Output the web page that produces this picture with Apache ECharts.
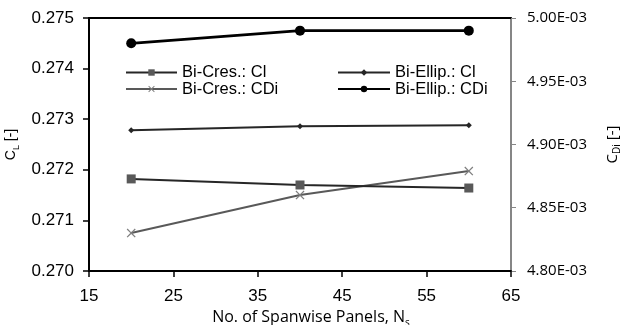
<!DOCTYPE html>
<html>
<head>
<meta charset="utf-8">
<script src="https://cdn.jsdelivr.net/npm/echarts@6/dist/echarts.min.js"></script>
<style>
  html, body { margin: 0; padding: 0; background: #fff; }
  #main { width: 622px; height: 325px; }
</style>
</head>
<body>
<div id="main"></div>
<script>
// panels along the span
var panels = [20, 40, 60]
// lift coefficient (left axis)
var cresCl = [0.27182, 0.27170, 0.27164]
var ellipCl = [0.27278, 0.27286, 0.27288]
// induced drag coefficient (right axis)
var cresCDi = [0.004830, 0.004860, 0.004879]
var ellipCDi = [0.004980, 0.004990, 0.004990]

var arial = "'Liberation Sans', Arial, sans-serif"
var calibri = "'Open Sans', sans-serif"

// small X marker
var xMark = 'path://M1,0 L5,4 L9,0 L10,1 L6,5 L10,9 L9,10 L5,6 L1,10 L0,9 L4,5 L0,1 Z'

function pairs(ys) {
    return panels.map(function (x, i) { return [x, ys[i]] })
}

var legendText = { fontFamily: arial, fontSize: 16.5, color: '#000' }

var myEcharts = echarts.init(document.getElementById('main'))
var option = {
    animation: false,
    grid: { left: 89, right: 111, top: 18, bottom: 54, outerBoundsMode: 'none' },
    legend: [{
        orient: 'vertical',
        left: 120, top: 59,
        itemWidth: 51, itemHeight: 8, itemGap: -0.5,
        textStyle: legendText,
        data: ['Bi-Cres.: Cl', 'Bi-Cres.: CDi']
    }, {
        orient: 'vertical',
        left: 332, top: 59,
        itemWidth: 52, itemHeight: 8, itemGap: -0.5,
        textStyle: legendText,
        data: ['Bi-Ellip.: Cl', 'Bi-Ellip.: CDi']
    }],
    xAxis: [{
        type: 'value',
        min: 15, max: 65, interval: 10,
        name: '{c|No. of Spanwise Panels, N}{s|s}',
        nameLocation: 'middle',
        nameGap: 24,
        nameTextStyle: {
            padding: [0, 0, 0, 22],
            rich: {
                c: { fontFamily: calibri, fontSize: 16, color: '#000', lineHeight: 20, verticalAlign: 'middle' },
                s: { fontFamily: calibri, fontSize: 10, color: '#000', lineHeight: 10, verticalAlign: 'bottom' }
            }
        },
        axisLine: { lineStyle: { color: '#000', width: 2 } },
        axisTick: { length: 6, lineStyle: { color: '#000', width: 1.5 } },
        axisLabel: { fontFamily: arial, fontSize: 17, color: '#000', margin: 17 },
        splitLine: { show: false }
    }, {
        type: 'value',
        position: 'top',
        min: 15, max: 65,
        axisLine: { lineStyle: { color: '#000', width: 2 } },
        axisTick: { show: false },
        axisLabel: { show: false },
        splitLine: { show: false }
    }],
    yAxis: [{
        type: 'value',
        min: 0.270, max: 0.275, interval: 0.001,
        name: '{c|C}{s|L}{c| [-]}',
        nameLocation: 'middle',
        nameRotate: 90,
        nameGap: 67,
        nameTextStyle: {
            rich: {
                c: { fontFamily: arial, fontSize: 14, color: '#000', lineHeight: 18, verticalAlign: 'middle' },
                s: { fontFamily: arial, fontSize: 9, color: '#000', lineHeight: 9, verticalAlign: 'bottom' }
            }
        },
        axisLine: { show: true, lineStyle: { color: '#000', width: 2 } },
        axisTick: { show: true, length: 6, lineStyle: { color: '#000', width: 1.5 } },
        axisLabel: {
            fontFamily: arial, fontSize: 17, color: '#000', margin: 15,
            formatter: function (v) { return v.toFixed(3) }
        },
        splitLine: { show: false }
    }, {
        type: 'value',
        min: 0.0048, max: 0.005, interval: 0.00005,
        name: '{c|C}{s|Di}{c| [-]}',
        nameLocation: 'middle',
        nameRotate: 90,
        nameGap: 93,
        nameTextStyle: {
            rich: {
                c: { fontFamily: calibri, fontSize: 15, color: '#000', lineHeight: 18, verticalAlign: 'middle' },
                s: { fontFamily: calibri, fontSize: 10, color: '#000', lineHeight: 10, verticalAlign: 'bottom' }
            }
        },
        axisLine: { show: true, lineStyle: { color: '#868686', width: 2 } },
        axisTick: { show: true, length: 5, lineStyle: { color: '#868686', width: 1 } },
        axisLabel: {
            fontFamily: calibri, fontSize: 15, color: '#000', margin: 16,
            formatter: function (v) { return (v * 1000).toFixed(2) + 'E-03' }
        },
        splitLine: { show: false }
    }],
    series: [{
        name: 'Bi-Cres.: Cl',
        type: 'line',
        yAxisIndex: 0,
        data: pairs(cresCl),
        symbol: 'rect', symbolSize: 9,
        lineStyle: { color: '#262626', width: 2 },
        itemStyle: { color: '#595959' },
        z: 3
    }, {
        name: 'Bi-Cres.: CDi',
        type: 'line',
        yAxisIndex: 1,
        data: pairs(cresCDi),
        symbol: xMark, symbolSize: 9,
        lineStyle: { color: '#595959', width: 2 },
        itemStyle: { color: '#808080' },
        z: 2
    }, {
        name: 'Bi-Ellip.: Cl',
        type: 'line',
        yAxisIndex: 0,
        data: pairs(ellipCl),
        symbol: 'diamond', symbolSize: 6,
        lineStyle: { color: '#262626', width: 2 },
        itemStyle: { color: '#262626' },
        z: 3
    }, {
        name: 'Bi-Ellip.: CDi',
        type: 'line',
        yAxisIndex: 1,
        data: pairs(ellipCDi),
        symbol: 'circle', symbolSize: 10,
        lineStyle: { color: '#000', width: 2.8 },
        itemStyle: { color: '#000' },
        z: 3
    }]
}
myEcharts.setOption(option)
</script>
</body>
</html>
